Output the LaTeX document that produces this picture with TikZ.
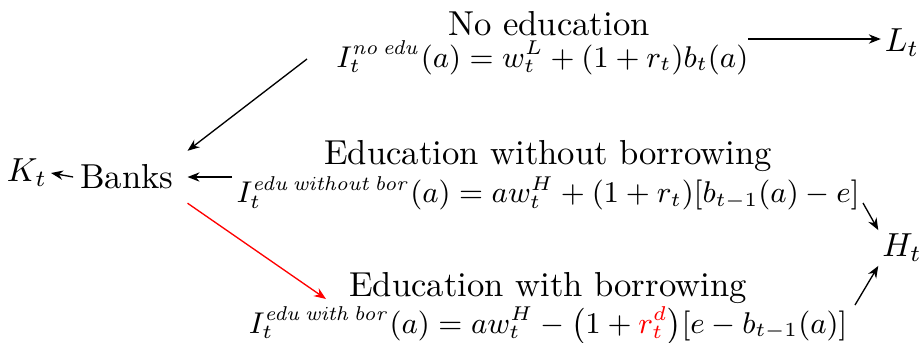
\documentclass[tikz,border=0pt]{standalone}
\usepackage{amsmath}
\usetikzlibrary{arrows.meta,positioning}

\begin{document}
\begin{tikzpicture}[
  x=0.3pt, y=0.3pt,
  font=\fontsize{10.4}{12.5}\selectfont,
  title/.style={inner sep=0pt},
  eqn/.style={inner sep=0pt, font=\fontsize{8.6}{10}\selectfont},
  var/.style={inner sep=1pt},
  arr/.style={-{Stealth[length=3.6pt,width=2.8pt]}, line width=0.4pt},
  redarr/.style={arr, red}
]
\useasboundingbox (0,0) rectangle (920,-342);
% left side: capital and banks
\node[var] (Kt) at (27,-173) {$K_t$};
\node[inner sep=4pt] (banks) at (127,-177) {Banks};
% the three groups
\node[title] (noedu) at (549,-24) {No education};
\node[eqn, below=1pt of noedu, xshift=-2pt] (inoedu)
  {$I_t^{\mathit{no\,edu}}(a) = w_t^L + (1+r_t)b_t(a)$};
\node[title] (wo) at (548,-156) {Education without borrowing};
\node[eqn, below=1pt of wo] (iwo)
  {$I_t^{\mathit{edu\,without\,bor}}(a) = a w_t^H + (1+r_t)[b_{t-1}(a) - e]$};
\node[title] (wb) at (548,-288) {Education with borrowing};
\node[eqn, below=0.5pt of wb] (iwb)
  {$I_t^{\mathit{edu\,with\,bor}}(a) = a w_t^H - \bigl(1+\textcolor{red}{r_t^d}\bigr)[e - b_{t-1}(a)]$};
% right side: labour and human capital
\node[var] (Lt) at (902,-43) {$L_t$};
\node[var] (Ht) at (902,-248) {$H_t$};
% free ends
\coordinate (lstart) at (748,-39);
\coordinate (nstart) at (307,-59);
\coordinate (wend) at (326,-299);
\coordinate (h1) at (863,-203);
\coordinate (h2) at (855,-305);
\draw[arr] ([xshift=2pt]banks.west) -- (Kt.east);
\draw[arr] (nstart) -- (banks.north east);
\draw[arr] (banks.east -| 232,0) -- (banks.east);
\draw[redarr] (banks.south east) -- (wend);
\draw[arr] (lstart) -- (lstart -| Lt.west);
\draw[arr] (h1) -- (Ht.north west);
\draw[arr] (h2) -- (Ht.south west);
\end{tikzpicture}
\end{document}
